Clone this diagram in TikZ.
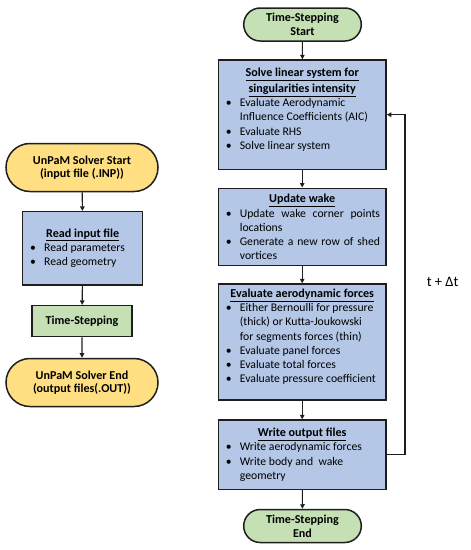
\documentclass[tikz,border=0pt]{standalone}
\usepackage{fontspec}
\setmainfont{Carlito}
\usetikzlibrary{arrows.meta,shapes.misc}
\definecolor{boxblue}{RGB}{180,199,231}
\definecolor{boxgreen}{RGB}{197,224,180}
\definecolor{boxyellow}{RGB}{255,223,130}
\definecolor{edge}{RGB}{30,30,30}
\newcommand\ttl[1]{\par\noindent\makebox[\hsize]{\fontsize{12.1}{16}\selectfont\underline{\textbf{#1}}}}
\newcommand\bitem[1]{\par\noindent\makebox[15.5pt][l]{\hspace{1.5pt}\textbullet}#1}
\newcommand\cont[1]{\par\noindent\hspace*{15.5pt}#1}
\newcommand\jline[1]{\makebox[\dimexpr\hsize-15.5pt\relax][s]{#1}}
% \pbox{width}{height}{inner pos}{top gap}{content}
\newcommand\pbox[5]{\parbox[c][#2][#3]{#1}{\fontsize{11.7}{14.2}\selectfont\raggedright\vspace*{#4}#5\par}}
\tikzset{
  proc/.style={draw=edge, line width=1.5pt, fill=boxblue, inner xsep=6pt, inner ysep=0pt},
  term/.style={draw=edge, line width=1.5pt, rounded rectangle, align=center,
     font=\fontsize{12.1}{13.6}\selectfont\bfseries, inner sep=2pt},
  gterm/.style={term, fill=boxgreen, minimum width=121.6pt, minimum height=33pt},
  yterm/.style={term, fill=boxyellow, minimum width=156pt, minimum height=48pt},
  flow/.style={draw=edge, line width=1.1pt, -{Triangle[length=4.5pt,width=4.5pt]}}
}
\begin{document}
\begin{tikzpicture}[x=1pt,y=-1pt]
\useasboundingbox (0,0) rectangle (471,550);
% left column
\node[yterm] (start) at (82,167.5) {UnPaM Solver Start\\(input file (.INP))};
\node[proc] (read) at (82.7,248.3)
  {\pbox{108pt}{73.3pt}{c}{0pt}{\ttl{Read input file}\bitem{Read parameters}\bitem{Read geometry}}};
\node[draw=edge, line width=1.5pt, fill=boxgreen, minimum width=100pt, minimum height=31pt,
  font=\fontsize{12.1}{13.6}\selectfont\bfseries] (ts) at (82,321.2) {Time-Stepping};
\node[yterm] (end) at (82,382.5) {UnPaM Solver End\\(output files(.OUT))};
\draw[flow] (start) -- (read);
\draw[flow] (read) -- (ts);
\draw[flow] (ts) -- (end);
% right column
\node[gterm] (tss) at (302.5,24.5) {Time-Stepping\\Start};
\node[proc] (solve) at (302.2,114.7)
  {\pbox{155.7pt}{109.3pt}{t}{8pt}{\ttl{Solve linear system for}\par\vspace{1.8pt}\ttl{singularities intensity}%
   \bitem{Evaluate Aerodynamic}\cont{Influence Coefficients (AIC)}%
   \bitem{Evaluate RHS}\bitem{Solve linear system}}};
\node[proc] (wake) at (302.2,227)
  {\pbox{155.7pt}{77.4pt}{c}{0pt}{\ttl{Update wake}\bitem{\jline{Update wake corner points}}\cont{locations}%
   \bitem{\jline{Generate a new row of shed}}\cont{vortices}}};
\node[proc] (forces) at (302.2,342)
  {\pbox{155.7pt}{116pt}{t}{5pt}{\ttl{Evaluate aerodynamic forces}\bitem{Either Bernoulli for pressure}\cont{(thick) or Kutta-Joukowski}\cont{for segments forces (thin)}%
   \bitem{Evaluate panel forces}\bitem{Evaluate total forces}\bitem{Evaluate pressure coefficient}}};
\node[proc] (write) at (302.2,454.7)
  {\pbox{155.7pt}{69.3pt}{c}{0pt}{\ttl{Write output files}\bitem{Write aerodynamic forces}\bitem{Write body and\ \ wake}\cont{geometry}}};
\node[gterm] (tse) at (302.5,526) {Time-Stepping\\End};
\draw[flow] (tss) -- (solve);
\draw[flow] (solve) -- (wake);
\draw[flow] (wake) -- (forces);
\draw[flow] (forces) -- (write);
\draw[flow] (write) -- (tse);
\coordinate (loop) at (405,300);
\draw[flow] (write.east) -| (loop) |- (solve.east);
\node[font=\fontsize{14.5}{16}\selectfont] (dt) at (442.7,281.7) {t + Δt};
\end{tikzpicture}
\end{document}
